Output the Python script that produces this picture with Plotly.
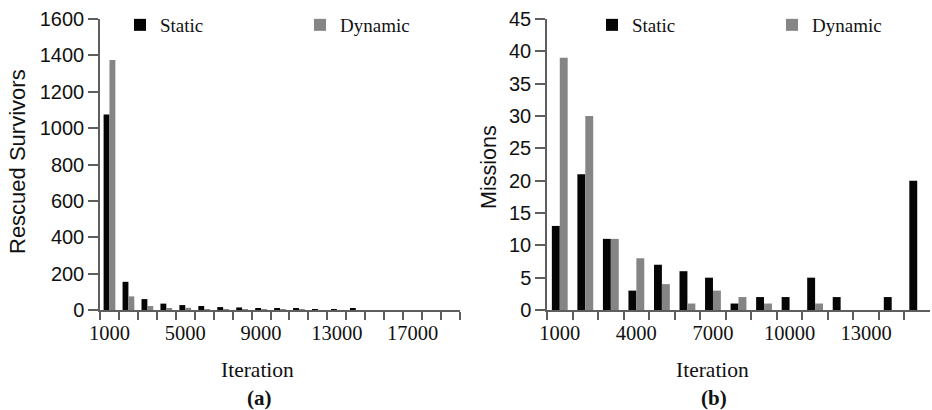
import plotly.graph_objects as go

W, H = 932, 410

# Panel (a): rescued survivors per iteration bucket
iterations_a = [1000, 2000, 3000, 4000, 5000, 6000, 7000, 8000, 9000, 10000,
                11000, 12000, 13000, 14000, 15000, 16000, 17000, 18000, 19000]
survivors_static = [1075, 155, 60, 35, 27, 22, 16, 14, 8, 7, 7, 2, 1, 7, 0, 0, 0, 0, 0]
survivors_dynamic = [1375, 75, 22, 8, 12, 4, 3, 4, 2, 2, 1, 0, 0, 0, 0, 0, 0, 0, 0]

# Panel (b): missions per iteration bucket
iterations_b = [1000, 2000, 3000, 4000, 5000, 6000, 7000, 8000, 9000, 10000,
                11000, 12000, 13000, 14000, 15000]
missions_static = [13, 21, 11, 3, 7, 6, 5, 1, 2, 2, 5, 2, 0, 2, 20]
missions_dynamic = [39, 30, 11, 8, 4, 1, 3, 2, 1, 0, 1, 0, 0, 0, 0]

series_names = ["Static", "Dynamic"]
series_colors = ["#050505", "#858585"]

SERIF = "Liberation Serif, Times New Roman, serif"
SANS = "Liberation Sans, Arial, sans-serif"
AXIS_COLOR = "#5e5e5e"
TEXT_COLOR = "#111111"


def px(x):
    return x / W


def py(y):
    return 1 - y / H


cats_a = [str(v) for v in iterations_a]
cats_b = [str(v) for v in iterations_b]

fig = go.Figure()
for name, color, vals in zip(series_names, series_colors,
                             [survivors_static, survivors_dynamic]):
    fig.add_trace(go.Bar(x=cats_a, y=vals, name=name, marker_color=color,
                         marker_line_width=0, xaxis="x", yaxis="y",
                         legend="legend"))
for name, color, vals in zip(series_names, series_colors,
                             [missions_static, missions_dynamic]):
    fig.add_trace(go.Bar(x=cats_b, y=vals, name=name, marker_color=color,
                         marker_line_width=0, xaxis="x2", yaxis="y2",
                         legend="legend2"))

y_dom = [py(310), py(19)]

xaxis_common = dict(
    type="category", tickson="boundaries", tickmode="linear", tick0=0, dtick=1,
    ticks="outside", ticklen=8, tickwidth=1.5, tickcolor=AXIS_COLOR,
    showline=True, linecolor=AXIS_COLOR, linewidth=1.5,
    showgrid=False, zeroline=False, automargin=False, tickangle=0,
    ticklabelstandoff=4,
    tickfont=dict(family=SERIF, size=20.5, color=TEXT_COLOR),
)
yaxis_common = dict(
    ticks="outside", ticklen=10, tickwidth=1.5, tickcolor=AXIS_COLOR,
    showline=True, linecolor=AXIS_COLOR, linewidth=1.5,
    showgrid=False, zeroline=False, automargin=False,
    tickfont=dict(family=SANS, size=20, color=TEXT_COLOR),
)

legend_common = dict(
    orientation="h", yanchor="middle", xanchor="left",
    font=dict(family=SERIF, size=19, color=TEXT_COLOR),
    bgcolor="rgba(0,0,0,0)", borderwidth=0,
    entrywidth=135, entrywidthmode="pixels", traceorder="normal",
)

fig.update_layout(
    width=W, height=H,
    margin=dict(l=0, r=0, t=0, b=0, autoexpand=False),
    paper_bgcolor="white", plot_bgcolor="white",
    barmode="group", bargap=0.38, bargroupgap=0,
    showlegend=True,
    xaxis=dict(domain=[px(100), px(460)], anchor="y", ticklabelstep=4,
               **xaxis_common),
    yaxis=dict(domain=y_dom, anchor="x", range=[0, 1600], tickmode="linear",
               tick0=0, dtick=200, **yaxis_common),
    xaxis2=dict(domain=[px(547), px(930)], anchor="y2", ticklabelstep=3,
                **xaxis_common),
    yaxis2=dict(domain=y_dom, anchor="x2", range=[0, 45], tickmode="linear",
                tick0=0, dtick=5, **yaxis_common),
    legend=dict(x=px(120), y=py(25), **legend_common),
    legend2=dict(x=px(592), y=py(25), **legend_common),
)

annotations = [
    dict(text="Iteration", x=px(257), y=py(370), font=dict(family=SERIF, size=21.5)),
    dict(text="Iteration", x=px(712), y=py(370), font=dict(family=SERIF, size=21.5)),
    dict(text="<b>(a)</b>", x=px(259), y=py(398), font=dict(family=SERIF, size=21)),
    dict(text="<b>(b)</b>", x=px(714), y=py(398), font=dict(family=SERIF, size=21)),
    dict(text="Rescued Survivors", x=px(17), y=py(162), textangle=-90,
         font=dict(family=SANS, size=22)),
    dict(text="Missions", x=px(489), y=py(167), textangle=-90,
         font=dict(family=SANS, size=21.5)),
]
for a in annotations:
    a.update(xref="paper", yref="paper", showarrow=False,
             xanchor="center", yanchor="middle")
    a["font"]["color"] = TEXT_COLOR
fig.update_layout(annotations=annotations)

fig.write_html("out.html")
